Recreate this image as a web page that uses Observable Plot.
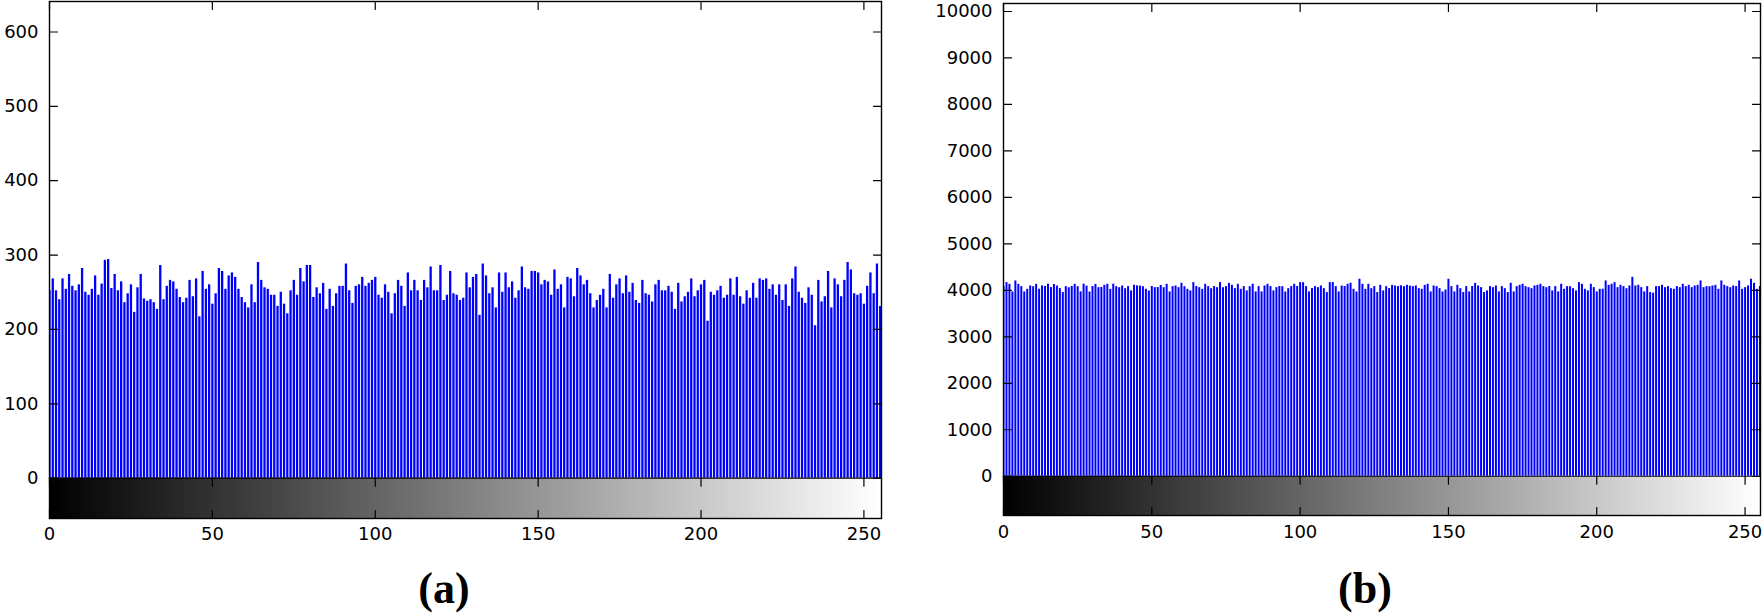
<!DOCTYPE html>
<html>
<head>
<meta charset="utf-8">
<script src="https://cdn.jsdelivr.net/npm/d3@7"></script>
<script src="https://cdn.jsdelivr.net/npm/@observablehq/plot@0.6"></script>
<style>
  html, body { margin: 0; padding: 0; background: #fff; }
  #wrap { position: relative; width: 1762px; height: 616px; overflow: hidden; background: #fff; }
  .panel { position: absolute; top: 0; }
  .lab { position: absolute; top: 567px; font-family: "Liberation Serif", "Times New Roman", serif;
         font-weight: bold; font-size: 44px; line-height: 1; transform: translateX(-50%); color: #000; white-space: nowrap; }
</style>
</head>
<body>
<div id="wrap">
  <div id="pa" class="panel" style="left:0px"></div>
  <div id="pb" class="panel" style="left:910px"></div>
  <div class="lab" style="left:444px">(a)</div>
  <div class="lab" style="left:1365px">(b)</div>
</div>
<script>
// ---- data ----
const grayLevels = d3.range(256);           // intensity levels 0..255
const xTicks = [0, 50, 100, 150, 200, 250];
const yTicksA = [0, 100, 200, 300, 400, 500, 600];
const yTicksB = [0, 1000, 2000, 3000, 4000, 5000, 6000, 7000, 8000, 9000, 10000];
const yDomainA = [-54.2, 641];
const yDomainB = [-845, 10172];

// histogram (a): pixel counts per gray level
const countsA = [
  252,268,252,240,268,254,274,258,252,260,282,250,246,254,272,246,261,293,294,255,
  274,252,264,236,248,260,223,256,274,241,238,240,236,227,286,240,258,266,264,254,
  243,236,242,266,244,268,217,278,254,260,234,248,282,278,254,272,276,270,254,243,
  236,229,260,236,290,266,256,254,246,246,231,250,234,221,252,266,246,282,264,286,
  286,243,256,248,262,227,254,231,248,
  258,258,288,252,235,258,260,270,258,262,266,270,246,242,260,250,221,248,266,258,
  231,276,252,266,252,239,266,256,284,252,252,286,239,246,278,248,246,239,242,276,
  256,270,274,219,288,272,248,256,229,276,250,276,256,264,242,252,284,256,254,278,
  278,276,260,266,264,246,280,254,260,229,270,268,244,282,272,260,266,248,229,239,
  246,254,229,274,242,260,268,248,272,250,262,239,
  235,266,248,246,237,260,266,252,252,258,250,227,262,237,244,250,268,244,252,260,
  266,211,250,246,252,258,242,246,268,246,270,244,234,252,242,262,242,268,266,268,
  254,260,246,260,239,260,231,268,284,250,242,235,256,246,205,266,237,244,278,229,
  268,260,244,266,290,280,248,246,248,234,258,276,248,288,231
];

// histogram (b): pixel counts per gray level
const countsB = [
  4080,4166,4130,3965,4202,4130,4080,3965,4022,4094,4078,4128,4024,4096,4082,4132,4060,4126,4092,4038,
  3952,4080,4056,4084,4130,4078,3968,4134,4092,3964,4082,4128,4058,4062,4108,4130,4020,4132,4080,4056,
  4094,4036,4080,3988,4110,4096,4092,4078,4024,3986,4082,4058,4060,4106,4056,4130,3966,4080,4094,4058,
  4152,4078,4022,3988,4166,4082,4058,4020,4130,4080,4036,4082,4058,4168,4056,4080,4150,4108,4038,4130,
  4022,4080,3988,4078,4132,3966,4080,
  3966,4094,4130,4080,3988,4058,4082,4078,
  3964,4036,4080,4130,4082,4166,4164,4080,3966,4038,4080,4058,4094,4036,3952,4166,4168,4080,3966,4094,
  4082,4130,4152,4022,3964,4238,4130,4022,4128,4036,4080,3952,4108,3988,4080,4038,4106,4094,4080,4096,
  4078,4108,4092,4080,4094,4036,4022,4108,4130,3966,4094,4080,4036,3964,4008,4238,4080,3966,4108,4036,
  3952,4080,3966,4082,4150,4094,4058,3952,3988,4080,4058,4094,3966,4080,4036,3952,4152,
  3966,4080,4108,4130,4080,4058,4036,4094,4108,
  4130,4080,4058,4082,3988,4080,3966,4130,4022,4080,4078,4036,3988,4166,4130,4022,3988,4130,4058,3966,
  4022,4024,4202,4108,4130,4166,4058,4108,4080,4036,4094,4280,4094,4108,4058,3966,4080,3952,3940,4080,
  4082,4108,4058,4080,4036,4022,4080,4058,4130,4080,4108,4058,4094,4108,4202,4058,4080,4078,4094,4108,
  4022,4202,4108,4080,4058,4094,4080,4202,4022,4058,4094,4238,4152,4022,4080
];

// ---- drawing ----
const tickLine = { draw(ctx, l) { ctx.moveTo(0, 0); ctx.lineTo(0, -l); } };

function histPanel({counts, yTicks, yDomain, width, height, marginLeft, marginRight, marginTop, marginBottom,
                    barWidth, xDomain, yPad, xPad}) {
  const table = grayLevels.map(g => ({level: g, count: counts[g]}));
  const tk = (data, opts) => Plot.vector(data, {length: 8, anchor: "start", shape: tickLine,
                                                stroke: "#000", strokeWidth: 1.2, ...opts});
  return Plot.plot({
    width, height, marginLeft, marginRight, marginTop, marginBottom,
    style: {fontFamily: "'DejaVu Sans', sans-serif", fontSize: "18px", color: "#000", background: "#fff", overflow: "visible"},
    x: {domain: xDomain, label: null},
    y: {domain: yDomain, label: null},
    marks: [
      // gray-level colour strip
      Plot.rect(grayLevels, {x1: d => d - 0.5, x2: d => d + 0.5, y1: yDomain[0], y2: 0,
                             insetLeft: -0.4, insetRight: -0.4,
                             fill: d => `rgb(${d},${d},${d})`, clip: true}),
      // histogram stems
      Plot.ruleX(table, {x: "level", y1: 0, y2: "count", stroke: "#0000ff", strokeWidth: barWidth, clip: true}),
      Plot.ruleY([0], {stroke: "#000", strokeWidth: 1.2}),
      Plot.frame({stroke: "#000", strokeWidth: 1.4}),
      // inward tick marks
      tk(yTicks, {y: d => d, frameAnchor: "left", rotate: 90}),
      tk(yTicks, {y: d => d, frameAnchor: "right", rotate: -90}),
      tk(xTicks, {x: d => d, frameAnchor: "top", rotate: 180}),
      tk(xTicks, {x: d => d, y: () => 0, rotate: 180}),
      tk(xTicks, {x: d => d, frameAnchor: "bottom", rotate: 0}),
      // tick labels
      Plot.axisY(yTicks, {anchor: "left", tickSize: 0, tickPadding: yPad, fontSize: 18, fill: "#000",
                          tickFormat: d => String(d), label: null}),
      Plot.axisX(xTicks, {anchor: "bottom", tickSize: 0, tickPadding: xPad, fontSize: 18, fill: "#000",
                          tickFormat: d => String(d), label: null})
    ]
  });
}

document.getElementById("pa").appendChild(histPanel({
  counts: countsA, yTicks: yTicksA, yDomain: yDomainA,
  width: 890, height: 560, marginLeft: 49, marginRight: 9, marginTop: 1, marginBottom: 42,
  barWidth: 2.3, xDomain: [0, 255.4], yPad: 11, xPad: 9
}));
document.getElementById("pb").appendChild(histPanel({
  counts: countsB, yTicks: yTicksB, yDomain: yDomainB,
  width: 852, height: 560, marginLeft: 93, marginRight: 2, marginTop: 3, marginBottom: 45,
  barWidth: 2.0, xDomain: [0, 255.2], yPad: 11, xPad: 10
}));
</script>
</body>
</html>
